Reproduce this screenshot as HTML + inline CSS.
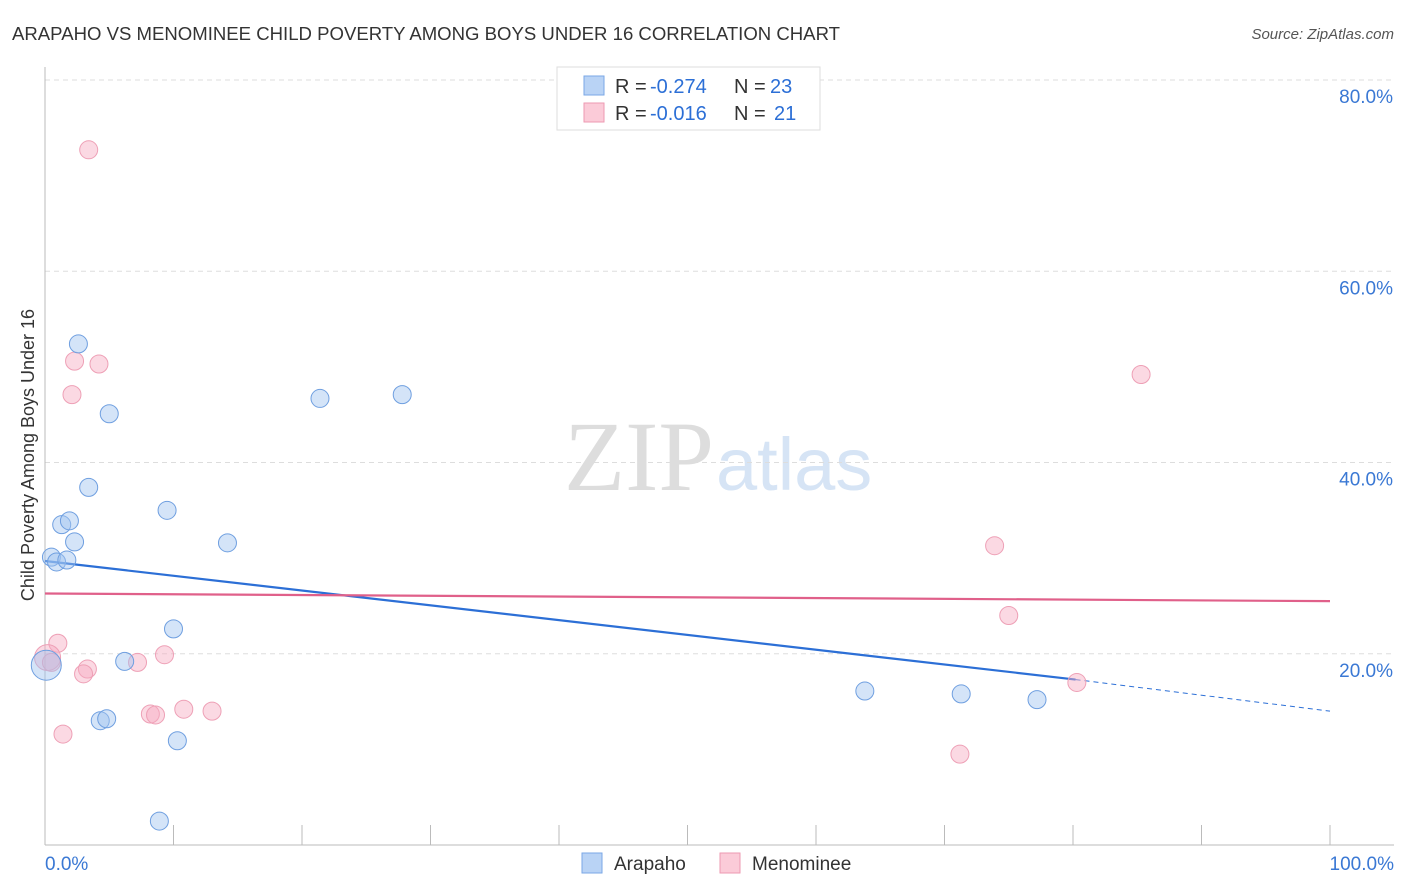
<!DOCTYPE html>
<html><head><meta charset="utf-8"><style>
body{margin:0;background:#fff;font-family:"Liberation Sans",sans-serif;}
</style></head><body>
<svg width="1406" height="892" style="display:block">
<text x="12" y="40" font-size="18" fill="#333" textLength="828" lengthAdjust="spacingAndGlyphs">ARAPAHO VS MENOMINEE CHILD POVERTY AMONG BOYS UNDER 16 CORRELATION CHART</text>
<text x="1394" y="39" font-size="15" fill="#555" text-anchor="end" font-style="italic">Source: ZipAtlas.com</text>
<text x="714" y="490" font-size="100" fill="#ddd" text-anchor="end" font-family="Liberation Serif">ZIP</text>
<text x="716" y="490" font-size="74" fill="#d6e4f5">atlas</text>
<g id="grid"></g>
<g id="axes"></g>
<text transform="translate(34,455) rotate(-90)" font-size="18" fill="#333" text-anchor="middle">Child Poverty Among Boys Under 16</text>
<g id="trend"></g>
<g id="pts"></g>
<g>
<rect x="557" y="67" width="263" height="63" fill="#fff" stroke="#ddd"/>
<rect x="584" y="76" width="20" height="19" fill="#b9d3f5" stroke="#7aa7e6"/>
<rect x="584" y="103" width="20" height="19" fill="#fbcbd8" stroke="#ee9ab2"/>
<text x="615" y="93" font-size="20" fill="#333">R =</text>
<text x="650" y="93" font-size="20" fill="#2c6fd6">-0.274</text>
<text x="734" y="93" font-size="20" fill="#333">N =</text>
<text x="770" y="93" font-size="20" fill="#2c6fd6">23</text>
<text x="615" y="120" font-size="20" fill="#333">R =</text>
<text x="650" y="120" font-size="20" fill="#2c6fd6">-0.016</text>
<text x="734" y="120" font-size="20" fill="#333">N =</text>
<text x="774" y="120" font-size="20" fill="#2c6fd6">21</text>
</g>
<g>
<rect x="582" y="853" width="20" height="20" fill="#b9d3f5" stroke="#7aa7e6"/>
<text x="614" y="870" font-size="19" fill="#333">Arapaho</text>
<rect x="720" y="853" width="20" height="20" fill="#fbcbd8" stroke="#ee9ab2"/>
<text x="752" y="870" font-size="19" fill="#333">Menominee</text>
</g>
</svg>
<script>
const NS="http://www.w3.org/2000/svg";
const yTicks=[20,40,60,80];
const yTickLabels=["20.0%","40.0%","60.0%","80.0%"];
const xLabels=["0.0%","100.0%"];
const arapahoX=[2.6,5.0,3.4,1.3,1.9,2.3,0.5,0.9,1.7,9.5,14.2,21.4,27.8,10.0,6.2,4.3,4.8,10.3,8.9,63.8,71.3,77.2,0.1];
const arapahoY=[52.4,45.1,37.4,33.5,33.9,31.7,30.1,29.6,29.8,35.0,31.6,46.7,47.1,22.6,19.2,13.0,13.2,10.9,2.5,16.1,15.8,15.2,18.8];
const arapahoR=[9,9,9,9,9,9,9,9,9,9,9,9,9,9,9,9,9,9,9,9,9,9,15];
const menX=[3.4,2.3,4.2,2.1,1.0,0.2,0.5,3.3,3.0,7.2,9.3,1.4,8.2,8.6,10.8,13.0,73.9,75.0,80.3,85.3,71.2];
const menY=[72.7,50.6,50.3,47.1,21.1,19.6,19.1,18.4,17.9,19.1,19.9,11.6,13.7,13.6,14.2,14.0,31.3,24.0,17.0,49.2,9.5];
const menR=[9,9,9,9,9,13,9,9,9,9,9,9,9,9,9,9,9,9,9,9,9];
const blueTrend=[29.7,17.3,14.0];
const blueTrendX=[0,80.2,100];
const pinkTrend=[26.3,25.5];
const X=v=>45+v*12.85, Y=v=>845-v*9.5625;
function mk(t,a,p){const e=document.createElementNS(NS,t);for(const k in a)e.setAttribute(k,a[k]);(p||document.querySelector("svg")).appendChild(e);return e;}
const grid=document.getElementById("grid"),axes=document.getElementById("axes");
yTicks.forEach((t,i)=>{
 const l=mk("line",{x1:45,x2:1394,y1:Y(t),y2:Y(t),stroke:"#ddd","stroke-dasharray":"5,4"},grid);
 
 
 const tx=mk("text",{x:1393,y:Y(t)+23,"font-size":19,fill:"#3a78d4","text-anchor":"end"},axes);
 tx.textContent=yTickLabels[i];
 
 
});
const ax=mk("line",{x1:45,x2:45,y1:67,y2:845,stroke:"#bbb"},axes);


const bx=mk("line",{x1:45,x2:1394,y1:845,y2:845,stroke:"#bbb"},axes);


for(let i=0;i<=10;i++){const t=mk("line",{x1:X(i*10),x2:X(i*10),y1:825,y2:845,stroke:"#bbb"},axes);
 
 }
[[0,"start",45],[100,"end",1394]].forEach((d,i)=>{const t=mk("text",{x:d[2],y:870,"font-size":19,fill:"#3a78d4","text-anchor":d[1]},axes);t.textContent=xLabels[i];
 
 });
const tr=document.getElementById("trend");
const b1=mk("line",{x1:X(blueTrendX[0]),y1:Y(blueTrend[0]),x2:X(blueTrendX[1]),y2:Y(blueTrend[1]),stroke:"#2c6fd6","stroke-width":2.2},tr);


const b2=mk("line",{x1:X(blueTrendX[1]),y1:Y(blueTrend[1]),x2:X(blueTrendX[2]),y2:Y(blueTrend[2]),stroke:"#2c6fd6","stroke-width":1,"stroke-dasharray":"5,4"},tr);


const p1=mk("line",{x1:X(0),y1:Y(pinkTrend[0]),x2:X(100),y2:Y(pinkTrend[1]),stroke:"#e0608a","stroke-width":2.2},tr);


const pts=document.getElementById("pts");
menX.forEach((v,i)=>{const c=mk("circle",{cx:X(v),cy:Y(menY[i]),r:menR[i],fill:"rgba(246,170,192,0.45)",stroke:"#eea0b6","stroke-width":1},pts);
 
 });
arapahoX.forEach((v,i)=>{const c=mk("circle",{cx:X(v),cy:Y(arapahoY[i]),r:arapahoR[i],fill:"rgba(160,196,240,0.45)",stroke:"#6f9fe0","stroke-width":1},pts);
 
 });
</script>
</body></html>
